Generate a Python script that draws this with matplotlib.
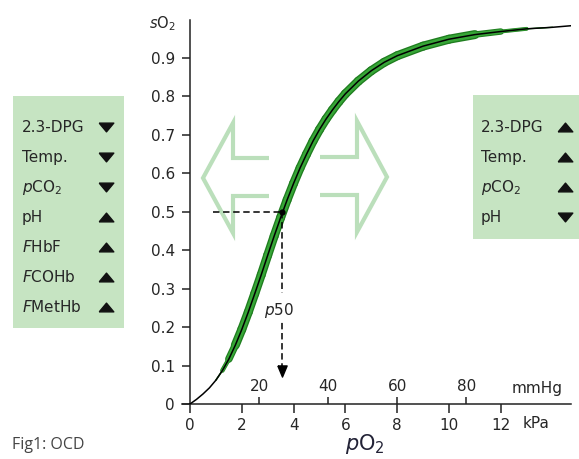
import matplotlib
matplotlib.use('Agg')
import matplotlib.pyplot as plt
from matplotlib.patches import Rectangle
from matplotlib.collections import LineCollection

plt.rcParams['font.family'] = ['DejaVu Sans']
plt.rcParams['mathtext.fontset'] = 'dejavusans'

# ---------------- data ----------------
pO2_kpa = [0.0, 0.25, 0.5, 0.75, 1.0, 1.25, 1.5, 1.75, 2.0, 2.25, 2.5, 2.75,
           3.0, 3.25, 3.5, 3.75, 4.0, 4.25, 4.5, 4.75, 5.0, 5.25, 5.5, 5.75,
           6.0, 6.5, 7.0, 7.5, 8.0, 9.0, 10.0, 11.0, 12.0, 13.0, 14.0, 14.7]
sO2 = [0.0, 0.012, 0.026, 0.042, 0.062, 0.087, 0.117, 0.153, 0.194, 0.239,
       0.287, 0.336, 0.387, 0.437, 0.485, 0.531, 0.574, 0.614, 0.650, 0.684,
       0.714, 0.741, 0.765, 0.787, 0.807, 0.840, 0.867, 0.889, 0.906, 0.931,
       0.949, 0.961, 0.969, 0.976, 0.980, 0.984]
band_from_kpa = 1.0
band_to_kpa = 14.0

p50_kpa = 3.55
p50_sat = 0.5
p50_hline_start = 0.9
p50_arrow_end = 0.085

y_ticks = [0, 0.1, 0.2, 0.3, 0.4, 0.5, 0.6, 0.7, 0.8, 0.9]
y_ticklabels = ['0', '0.1', '0.2', '0.3', '0.4', '0.5', '0.6', '0.7', '0.8', '0.9']
kpa_ticks = [0, 2, 4, 6, 8, 10, 12]
kpa_ticklabels = ['0', '2', '4', '6', '8', '10', '12']
mmhg_ticks = [20, 40, 60, 80]
mmhg_ticklabels = ['20', '40', '60', '80']
MMHG_PER_KPA = 7.50062

left_factors = ['2.3-DPG', 'Temp.', r'$\mathit{p}$CO$_2$', 'pH',
                r'$\mathit{F}$HbF', r'$\mathit{F}$COHb', r'$\mathit{F}$MetHb']
left_dirs = ['down', 'down', 'down', 'up', 'up', 'up', 'up']
right_factors = ['2.3-DPG', 'Temp.', r'$\mathit{p}$CO$_2$', 'pH']
right_dirs = ['up', 'up', 'up', 'down']

# ---------------- styling ----------------
W, H = 579, 459
TXT = '#262626'
BOX = '#c6e4c2'
ARROW = '#bbdfbb'
GREEN_EDGE = '#1f7d1f'
GREEN = '#37a637'
FS = 11

fig = plt.figure(figsize=(W / 100, H / 100), dpi=100)

# background pixel-coordinate layer for decorations
bg = fig.add_axes([0, 0, 1, 1], zorder=0)
bg.set_xlim(0, W)
bg.set_ylim(H, 0)
bg.axis('off')

# main axes: 0 kPa at px 190, 25.9 px per kPa; sO2 0 at px 404, 1 at px 19.6
px_per_kpa = 25.9
xmin, xmax = -0.3, 14.7
left_px = 190 + xmin * px_per_kpa
right_px = 190 + xmax * px_per_kpa
ax = fig.add_axes([left_px / W, (H - 404) / H, (right_px - left_px) / W, (404 - 19.6) / H],
                  zorder=1)
ax.patch.set_alpha(0)
ax.set_xlim(xmin, xmax)
ax.set_ylim(0, 1.0)
for s in ['top', 'right']:
    ax.spines[s].set_visible(False)
ax.spines['left'].set_position(('data', 0))
for s in ['left', 'bottom']:
    ax.spines[s].set_linewidth(1.1)
    ax.spines[s].set_color('#222222')

ax.set_yticks(y_ticks, y_ticklabels)
ax.tick_params(axis='y', direction='out', length=5.8, width=1.1, pad=5.0,
               labelsize=FS, color='#222222', labelcolor=TXT)
ax.set_xticks(kpa_ticks, kpa_ticklabels)
ax.tick_params(axis='x', direction='out', length=6.5, width=1.1, pad=3.5,
               labelsize=FS, color='#222222', labelcolor=TXT)

sec = ax.secondary_xaxis(0.0, functions=(lambda k: k * MMHG_PER_KPA,
                                         lambda m: m / MMHG_PER_KPA))
sec.set_alignment('top')
for s in sec.spines.values():
    s.set_visible(False)
sec.set_xticks(mmhg_ticks, mmhg_ticklabels)
sec.tick_params(axis='x', direction='out', length=5.0, width=1.1, pad=2.0,
                labelsize=FS, color='#222222', labelcolor=TXT)

# curve with tapered green band
band_x = [p for p in pO2_kpa if band_from_kpa <= p <= band_to_kpa]
band_y = [s for p, s in zip(pO2_kpa, sO2) if band_from_kpa <= p <= band_to_kpa]
segs = [[(band_x[i], band_y[i]), (band_x[i + 1], band_y[i + 1])]
        for i in range(len(band_x) - 1)]
n = len(segs)
taper = []
for i in range(n):
    a = min(1.0, (i + 0.5) / 3.0, (n - i - 0.5) / 3.5)
    taper.append(a)
ax.add_collection(LineCollection(segs, colors=GREEN_EDGE,
                                 linewidths=[6.5 * t for t in taper],
                                 capstyle='round', zorder=2))
ax.add_collection(LineCollection(segs, colors=GREEN,
                                 linewidths=[4.6 * t for t in taper],
                                 capstyle='round', zorder=2.1))
ax.plot(pO2_kpa, sO2, color='black', lw=1.1, zorder=4)

# p50 construction
ax.plot([p50_hline_start, p50_kpa], [p50_sat, p50_sat], color='black', lw=1.1,
        dashes=(4.2, 2.4), zorder=5)
ax.plot([p50_kpa, p50_kpa], [p50_sat, p50_arrow_end + 0.01], color='black', lw=1.1,
        dashes=(4.2, 2.4), zorder=5)
tri_down = [(-0.5, 0.6), (0.5, 0.6), (0, -0.6), (-0.5, 0.6)]
ax.plot([p50_kpa], [p50_arrow_end], marker=tri_down, markersize=8,
        color='black', zorder=6)
ax.plot([p50_kpa], [p50_sat], marker='o', markersize=3.5, color='black', zorder=6)
ax.add_patch(Rectangle((265, 293), 53, 27, transform=bg.transData,
                       facecolor='white', edgecolor='none', zorder=5.5))
ax.text(p50_kpa - 0.1, 0.242, r'$\mathit{p}$50', fontsize=FS, color=TXT,
        ha='center', va='center', zorder=7)

# axis labels
bg.text(162, 24, r'$\mathit{s}$O$_2$', fontsize=FS - 0.5, color=TXT, ha='center', va='center')
bg.text(537, 388, 'mmHg', fontsize=FS, color=TXT, ha='center', va='center')
bg.text(536, 424, 'kPa', fontsize=FS, color=TXT, ha='center', va='center')
bg.text(365, 450, r'$\mathit{p}$O$_2$', fontsize=15, color='#222236',
        ha='center', va='baseline')
bg.text(12, 445, 'Fig1: OCD', fontsize=11.5, family='Open Sans', color='#444444',
        ha='left', va='center')

# side boxes
bg.add_patch(Rectangle((13, 96), 111, 232, facecolor=BOX, edgecolor='none'))
bg.add_patch(Rectangle((473, 95), 106, 144, facecolor=BOX, edgecolor='none'))

tri_up = [(-0.5, -0.3), (0.5, -0.3), (0, 0.3), (-0.5, -0.3)]
tri_dn = [(-0.5, 0.3), (0.5, 0.3), (0, -0.3), (-0.5, 0.3)]
row0, dy = 126.5, 30
for i, (lab, d) in enumerate(zip(left_factors, left_dirs)):
    y = row0 + i * dy
    bg.text(22, y + 5.5, lab, fontsize=FS, color=TXT, ha='left', va='baseline')
    bg.plot([106], [y], marker=tri_up if d == 'up' else tri_dn, markersize=10.5,
            color='#111111', linestyle='none')
for i, (lab, d) in enumerate(zip(right_factors, right_dirs)):
    y = row0 + i * dy
    bg.text(481, y + 5.5, lab, fontsize=FS, color=TXT, ha='left', va='baseline')
    bg.plot([565], [y], marker=tri_up if d == 'up' else tri_dn, markersize=10.5,
            color='#111111', linestyle='none')

# hollow shift arrows
left_arrow_x = [269, 233, 233, 203, 233, 233, 269]
left_arrow_y = [158, 158, 123, 178, 233, 196, 196]
right_arrow_x = [320, 357, 357, 387, 357, 357, 320]
right_arrow_y = [157, 157, 121, 177, 232, 195, 195]
bg.plot(left_arrow_x, left_arrow_y, color=ARROW, lw=3.0, solid_joinstyle='miter',
        solid_capstyle='butt')
bg.plot(right_arrow_x, right_arrow_y, color=ARROW, lw=3.0, solid_joinstyle='miter',
        solid_capstyle='butt')

fig.savefig('out.png', dpi=100)
